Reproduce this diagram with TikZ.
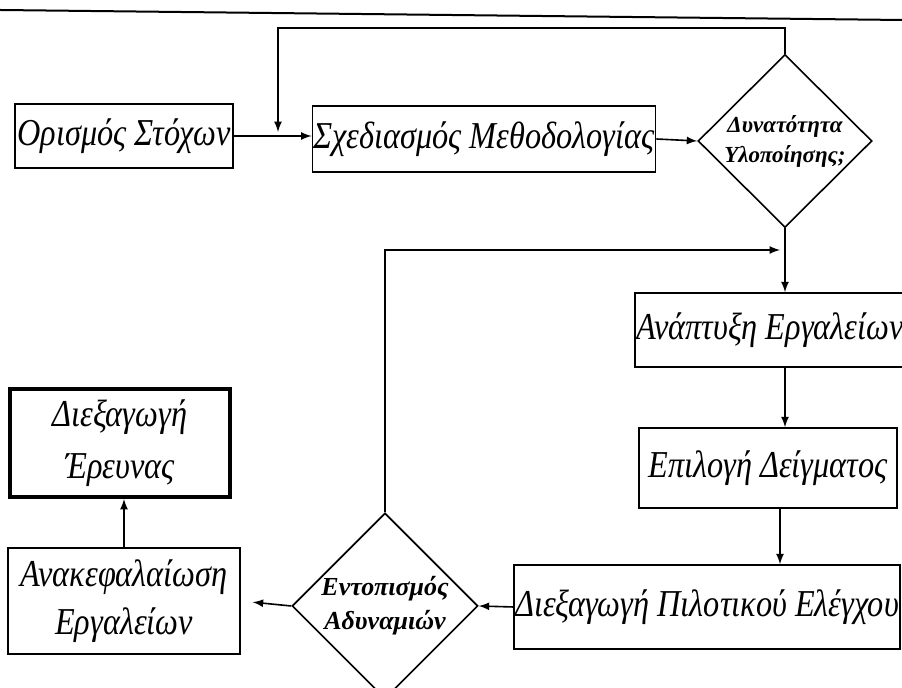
\documentclass[tikz,border=0pt]{standalone}
\usepackage{fontspec}
\setmainfont[FakeStretch=0.85]{Liberation Serif}
\newfontfamily\widefont{Liberation Serif}
\usetikzlibrary{positioning,shapes.geometric,arrows,calc}

\tikzset{
  box/.style={draw, line width=0.8pt, inner sep=0.5pt, align=center,
    font=\fontsize{19}{24}\selectfont\itshape},
  thickbox/.style={box, line width=2pt},
  decision/.style={draw, diamond, line width=0.8pt, inner sep=0pt, align=center},
  flow/.style={->, >=latex, line width=0.8pt}
}

\begin{document}
\begin{tikzpicture}[x=0.5pt, y=-0.5pt]
\useasboundingbox (0,0) rectangle (902,688);
\draw[line width=1pt] (0,10) -- (902,20);

% upper row
\node[box, minimum width=109pt, minimum height=32pt] (goals) at (124,136) {Ορισμός Στόχων};
\node[box, minimum width=171pt, minimum height=33pt] (method) at (484,139) {Σχεδιασμός Μεθοδολογίας};
\node[decision, minimum width=87pt, minimum height=84pt,
  font=\widefont\fontsize{11.5}{15}\selectfont\bfseries\itshape] (check) at (785,141) {Δυνατότητα\\Υλοποίησης;};

% right column
\node[box, minimum width=127pt, minimum height=37pt] (tools) at (770,330) {Ανάπτυξη Εργαλείων};
\node[box, minimum width=129pt, minimum height=40pt] (sample) at (768,468) {Επιλογή Δείγματος};
\node[box, minimum width=189pt, minimum height=42pt] (pilot) at (707,607) {Διεξαγωγή Πιλοτικού Ελέγχου};

% lower row
\node[decision, minimum width=90pt, minimum height=83pt,
  font=\widefont\fontsize{13}{17}\selectfont\bfseries\itshape] (weak) at (385,606) {Εντοπισμός\\Αδυναμιών};
\node[box, minimum width=116pt, minimum height=53pt] (summary) at (124,601) {Ανακεφαλαίωση\\Εργαλείων};
\node[thickbox, minimum width=110pt, minimum height=54pt,
  font=\fontsize{19}{26}\selectfont\itshape] (research) at (120,443) {Διεξαγωγή\\Έρευνας};

\coordinate (loopA) at (278,28);
\coordinate (join1) at (278,132);
\coordinate (join2) at (780,250);

\draw[flow] (goals.east) -- (goals.east -| method.west);
\draw[flow] (check.north) |- (loopA) -- (join1);
\draw[flow] (method.east) -- (check.west);
\draw[flow] (check.south) -- (check.south |- tools.north);
\draw[flow] (weak.north) |- (join2);
\draw[flow] (check.south |- tools.south) -- (check.south |- sample.north);
\draw[flow] (sample.south -| join2) -- (pilot.north -| join2);
\draw[flow] (pilot.west) -- (weak.east);
\draw[flow, shorten >=6pt] (weak.west) -- (summary.east);
\draw[flow] (summary.north) -- (summary.north |- research.south);
\end{tikzpicture}
\end{document}
